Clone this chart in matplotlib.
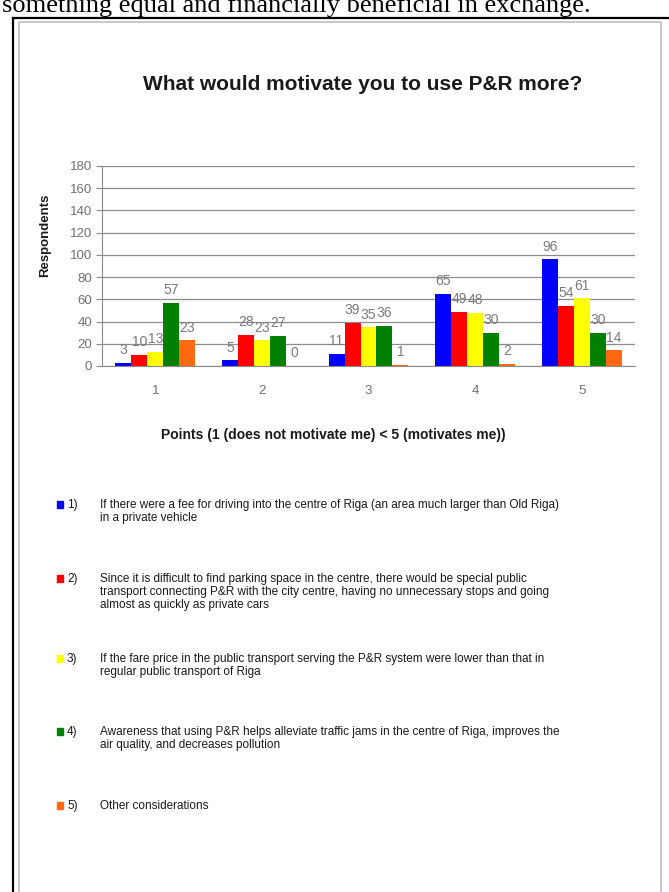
import matplotlib
matplotlib.use("Agg")
import matplotlib.pyplot as plt
from matplotlib.patches import Rectangle
from matplotlib.lines import Line2D

W, H = 669, 892

points = [1, 2, 3, 4, 5]
fee_centre = [3, 5, 11, 65, 96]
express_transport = [10, 28, 39, 49, 54]
lower_fare = [13, 23, 35, 48, 61]
awareness = [57, 27, 36, 30, 30]
other = [23, 0, 1, 2, 14]

series = [fee_centre, express_transport, lower_fare, awareness, other]
colors = ["#0000ff", "#ff0000", "#ffff00", "#008000", "#ff6a10"]
item_nums = ["1)", "2)", "3)", "4)", "5)"]
item_texts = [
    "If there were a fee for driving into the centre of Riga (an area much larger than Old Riga)\n"
    "in a private vehicle",
    "Since it is difficult to find parking space in the centre, there would be special public\n"
    "transport connecting P&R with the city centre, having no unnecessary stops and going\n"
    "almost as quickly as private cars",
    "If the fare price in the public transport serving the P&R system were lower than that in\n"
    "regular public transport of Riga",
    "Awareness that using P&R helps alleviate traffic jams in the centre of Riga, improves the\n"
    "air quality, and decreases pollution",
    "Other considerations",
]
item_y = [505, 579, 659, 732, 806]


def fx(x):
    return x / W


def fy(y):
    return 1 - y / H


plt.rcParams["font.family"] = ["Liberation Sans", "DejaVu Sans"]
fig = plt.figure(figsize=(W / 100, H / 100), dpi=100)

# page text running above the framed chart
fig.text(fx(2), fy(12), "something equal and financially beneficial in exchange.",
         family="Liberation Serif", fontsize=19, va="baseline", ha="left")

# outer black frame and the light chart border
fig.add_artist(Line2D([fx(13), 1.0], [fy(18), fy(18)], color="black", lw=1.6))
fig.add_artist(Line2D([fx(13), fx(13)], [fy(18), 0], color="black", lw=1.6))
fig.add_artist(Rectangle((fx(19), -0.01), fx(661) - fx(19), fy(22) + 0.01,
                         fill=False, ec="#c4c4c4", lw=1.3))

fig.text(fx(363), fy(85), "What would motivate you to use P&R more?",
         fontsize=15, fontweight="bold", color="#1a1a1a", ha="center", va="center")

ax = fig.add_axes([fx(102), fy(366), fx(635) - fx(102), fy(166) - fy(366)])
bw = 0.15
for i, vals in enumerate(series):
    xs = [p + (i - 2) * bw for p in points]
    ax.bar(xs, vals, width=bw, color=colors[i], zorder=3)
    for x, v in zip(xs, vals):
        ax.annotate(str(v), (x, v), xytext=(0, 4), textcoords="offset points",
                    ha="center", va="bottom", fontsize=10, color="#7a7a7a")

ax.set_xlim(0.5, 5.5)
ax.set_ylim(0, 180)
ax.set_yticks(range(0, 181, 20))
ax.set_xticks(points)
ax.yaxis.grid(True, color="#8c8c8c", lw=0.9, zorder=0)
ax.set_axisbelow(True)
for s in ["top", "right"]:
    ax.spines[s].set_visible(False)
ax.spines["left"].set_color("#8c8c8c")
ax.spines["bottom"].set_color("#8c8c8c")
ax.tick_params(axis="y", length=4, color="#8c8c8c", labelcolor="#707070",
               labelsize=9.5, pad=3)
ax.tick_params(axis="x", length=0, labelcolor="#707070", labelsize=9.5, pad=14)

fig.text(fx(333), fy(435), "Points (1 (does not motivate me) < 5 (motivates me))",
         fontsize=10, fontweight="bold", color="#1a1a1a", ha="center", va="center")
fig.text(fx(45), fy(235), "Respondents", rotation=90, fontsize=9.5,
         fontweight="bold", color="#1a1a1a", ha="center", va="center")

# legend written out as a list below the chart
for c, num, txt, y in zip(colors, item_nums, item_texts, item_y):
    fig.add_artist(Rectangle((fx(57), fy(y + 3)), 6 / W, 7 / H,
                             color=c, transform=fig.transFigure))
    fig.text(fx(67), fy(y), num, fontsize=8.5, color="#1a1a1a", va="center")
    fig.text(fx(100), fy(y - 6), txt, fontsize=8.5, color="#1a1a1a",
             va="top", ha="left", linespacing=1.1)

fig.savefig("out.png", dpi=100)
